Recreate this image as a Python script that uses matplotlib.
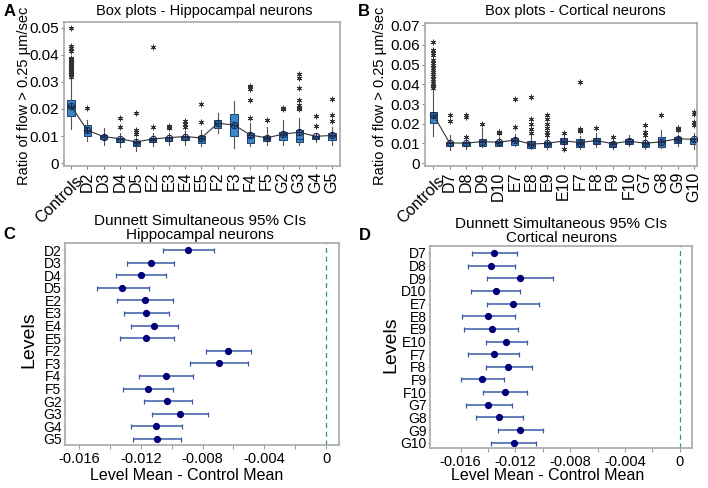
import matplotlib
matplotlib.use('Agg')
import matplotlib.pyplot as plt
import numpy as np
from matplotlib.ticker import FixedLocator

plt.rcParams['font.family'] = ['Liberation Sans', 'DejaVu Sans']

# ---------------- Panel A: box plots, hippocampal ----------------
a_cats = ['Controls', 'D2', 'D3', 'D4', 'D5', 'E2', 'E3', 'E4', 'E5',
          'F2', 'F3', 'F4', 'F5', 'G2', 'G3', 'G4', 'G5']
a_q1 = [0.0175, 0.0100, 0.0089, 0.0076, 0.0064, 0.0076, 0.0081, 0.0085, 0.0075,
        0.0128, 0.0100, 0.0075, 0.0080, 0.0086, 0.0076, 0.0089, 0.0086]
a_med = [0.0208, 0.0118, 0.0097, 0.0088, 0.0075, 0.0086, 0.0092, 0.0096, 0.0090,
         0.0147, 0.0141, 0.0097, 0.0090, 0.0105, 0.0088, 0.0096, 0.0100]
a_q3 = [0.0233, 0.0141, 0.0104, 0.0094, 0.0081, 0.0094, 0.0097, 0.0101, 0.0100,
        0.0159, 0.0181, 0.0112, 0.0100, 0.0116, 0.0122, 0.0101, 0.0112]
a_wlo = [0.0125, 0.0080, 0.0068, 0.0061, 0.0045, 0.0062, 0.0068, 0.0066, 0.0063,
         0.0110, 0.0054, 0.0062, 0.0066, 0.0066, 0.0065, 0.0078, 0.0066]
a_whi = [0.0310, 0.0160, 0.0128, 0.0110, 0.0093, 0.0110, 0.0112, 0.0118, 0.0122,
         0.0186, 0.0230, 0.0150, 0.0132, 0.0160, 0.0165, 0.0112, 0.0132]
a_mean = [0.0212, 0.0121, 0.0098, 0.0090, 0.0078, 0.0089, 0.0094, 0.0098, 0.0093,
          0.0147, 0.0141, 0.0104, 0.0093, 0.0107, 0.0114, 0.0099, 0.0102]
a_fliers = [
    [0.0499, 0.0432, 0.0425, 0.0415, 0.0390, 0.0385, 0.0380, 0.0375, 0.0370, 0.0365,
     0.0360, 0.0355, 0.0350, 0.0345, 0.0340, 0.0335, 0.0330, 0.0325, 0.0320],
    [0.0203], [], [0.0168, 0.0134], [0.0186, 0.0122, 0.0114, 0.0107],
    [0.0431, 0.0134], [0.0138, 0.0133, 0.0129], [0.0155, 0.0145, 0.0135],
    [0.0219, 0.0153], [], [], [0.0285, 0.0280, 0.0275, 0.0234, 0.0168],
    [0.0160], [0.0203, 0.0199],
    [0.0330, 0.0313, 0.0278, 0.0234, 0.0213, 0.0205, 0.0200],
    [0.0173, 0.0136], [0.0237, 0.0178, 0.0157]]

# ---------------- Panel B: box plots, cortical ----------------
b_cats = ['Controls', 'D7', 'D8', 'D9', 'D10', 'E7', 'E8', 'E9', 'E10',
          'F7', 'F8', 'F9', 'F10', 'G7', 'G8', 'G9', 'G10']
b_q1 = [0.0203, 0.0085, 0.0088, 0.0085, 0.0088, 0.0093, 0.0078, 0.0084, 0.0098,
        0.0081, 0.0098, 0.0084, 0.0098, 0.0084, 0.0084, 0.0104, 0.0098]
b_med = [0.0236, 0.0100, 0.0100, 0.0108, 0.0104, 0.0114, 0.0093, 0.0098, 0.0110,
         0.0098, 0.0115, 0.0097, 0.0110, 0.0098, 0.0108, 0.0120, 0.0115]
b_q3 = [0.0262, 0.0110, 0.0109, 0.0123, 0.0113, 0.0127, 0.0112, 0.0109, 0.0127,
        0.0122, 0.0130, 0.0106, 0.0123, 0.0109, 0.0132, 0.0132, 0.0130]
b_wlo = [0.0140, 0.0068, 0.0070, 0.0080, 0.0085, 0.0085, 0.0070, 0.0072, 0.0080,
         0.0070, 0.0080, 0.0070, 0.0085, 0.0070, 0.0075, 0.0088, 0.0070]
b_whi = [0.0370, 0.0143, 0.0120, 0.0180, 0.0135, 0.0150, 0.0140, 0.0135, 0.0137,
         0.0140, 0.0155, 0.0120, 0.0143, 0.0130, 0.0169, 0.0145, 0.0155]
b_mean = [0.0245, 0.0103, 0.0102, 0.0110, 0.0106, 0.0118, 0.0097, 0.0101, 0.0113,
          0.0105, 0.0115, 0.0099, 0.0112, 0.0101, 0.0109, 0.0124, 0.0121]
b_fliers = [
    [0.0616, 0.0574, 0.0560, 0.0548, 0.0523, 0.0510, 0.0497, 0.0485, 0.0472, 0.0464,
     0.0452, 0.0440, 0.0428, 0.0416, 0.0405, 0.0398, 0.0390, 0.0380],
    [0.0245, 0.0216], [0.0245, 0.0233, 0.0135], [0.0199], [0.0160, 0.0156, 0.0152],
    [0.0326, 0.0185], [0.0337, 0.0225, 0.0200, 0.0175, 0.0155],
    [0.0245, 0.0222, 0.0199, 0.0177, 0.0160, 0.0145], [0.0155, 0.0071],
    [0.0410, 0.0172, 0.0168, 0.0164], [0.0180], [0.0135], [],
    [0.0194, 0.0160, 0.0145], [0.0245], [0.0180, 0.0176, 0.0172, 0.0169],
    [0.0262, 0.0247, 0.0210, 0.0195]]

# ---------------- Panel C: Dunnett CIs, hippocampal ----------------
c_levels = ['D2', 'D3', 'D4', 'D5', 'E2', 'E3', 'E4', 'E5',
            'F2', 'F3', 'F4', 'F5', 'G2', 'G3', 'G4', 'G5']
c_center = [-0.00894, -0.01136, -0.01201, -0.01320, -0.01175, -0.01164, -0.01114, -0.01164,
            -0.00635, -0.00696, -0.01037, -0.01153, -0.01030, -0.00948, -0.01101, -0.01093]
c_lower = [-0.01058, -0.01289, -0.01360, -0.01484, -0.01352, -0.01307, -0.01266, -0.01335,
           -0.00780, -0.00884, -0.01214, -0.01315, -0.01182, -0.01125, -0.01266, -0.01248]
c_upper = [-0.00728, -0.00985, -0.01037, -0.01147, -0.00994, -0.01017, -0.00961, -0.00987,
           -0.00488, -0.00508, -0.00864, -0.00994, -0.00871, -0.00764, -0.00933, -0.00939]

# ---------------- Panel D: Dunnett CIs, cortical ----------------
d_levels = ['D7', 'D8', 'D9', 'D10', 'E7', 'E8', 'E9', 'E10',
            'F7', 'F8', 'F9', 'F10', 'G7', 'G8', 'G9', 'G10']
d_center = [-0.01354, -0.01381, -0.01167, -0.01344, -0.01216, -0.01400, -0.01374, -0.01269,
            -0.01359, -0.01254, -0.01442, -0.01274, -0.01398, -0.01318, -0.01165, -0.01211]
d_lower = [-0.01515, -0.01549, -0.01405, -0.01527, -0.01405, -0.01588, -0.01576, -0.01417,
           -0.01545, -0.01417, -0.01596, -0.01435, -0.01563, -0.01486, -0.01328, -0.01376]
d_upper = [-0.01189, -0.01206, -0.00923, -0.01169, -0.01026, -0.01206, -0.01179, -0.01113,
           -0.01172, -0.01081, -0.01286, -0.01118, -0.01223, -0.01147, -0.00999, -0.01050]

W, H = 708, 488
fig = plt.figure(figsize=(W / 100, H / 100), dpi=100)


def rect(l, t, r, b):
    return [l / W, 1 - b / H, (r - l) / W, (b - t) / H]


def ftext(x, y, s, **kw):
    fig.text(x / W, 1 - y / H, s, **kw)


SPINE = '#a8a8a8'
BOXFACE = '#3a86c8'
BOXEDGE = '#1b3f6e'


def box_panel(ax, cats, q1, med, q3, wlo, whi, mean, fliers, yticks, ylim, xlim):
    stats = []
    for i in range(len(cats)):
        stats.append(dict(label=cats[i], q1=q1[i], med=med[i], q3=q3[i],
                          whislo=wlo[i], whishi=whi[i], fliers=fliers[i]))
    pos = np.arange(len(cats))
    ax.bxp(stats, positions=pos, widths=0.45, showcaps=False, patch_artist=True,
           boxprops=dict(facecolor=BOXFACE, edgecolor=BOXEDGE, linewidth=0.7),
           medianprops=dict(color=BOXEDGE, linewidth=0.9),
           whiskerprops=dict(color='#555555', linewidth=0.8),
           flierprops=dict(marker=(6, 2, 0), markersize=4, markeredgewidth=0.6,
                           markeredgecolor='#333333', markerfacecolor='none'))
    ax.plot(pos, mean, color='#333333', lw=0.8, zorder=4)
    ax.plot(pos, mean, 'o', ms=4.5, mfc='none', mec='#1a2a50', mew=0.8, zorder=5)
    ax.plot(pos, mean, '+', ms=4.5, mec='#1a2a50', mew=0.8, zorder=5)
    ax.set_xlim(*xlim)
    ax.set_ylim(*ylim)
    ax.set_yticks(yticks)
    ax.set_yticklabels(['0' if v == 0 else f'{v:g}' for v in yticks], fontsize=11)
    ax.set_xticks(pos)
    ax.set_xticklabels([])
    span = ylim[1] - ylim[0]
    for i, c in enumerate(cats):
        if i == 0:
            ax.text(i + 0.25, ylim[0] - 0.05 * span, c,
                    rotation=45, ha='right', va='top', rotation_mode='anchor',
                    fontsize=11.5)
        else:
            ax.text(i, ylim[0] - 0.04 * span, c,
                    rotation=90, ha='center', va='top', fontsize=11.5)
    ax.tick_params(axis='both', direction='out', length=2.5, width=0.6, color='#666666', pad=1)
    for s in ax.spines.values():
        s.set_color(SPINE)
        s.set_linewidth(1.2)


axA = fig.add_axes(rect(64, 22, 340, 166))
box_panel(axA, a_cats, a_q1, a_med, a_q3, a_wlo, a_whi, a_mean, a_fliers,
          [0, 0.01, 0.02, 0.03, 0.04, 0.05], (-0.0011, 0.0522), (-0.43, 16.5))

axB = fig.add_axes(rect(425, 22.7, 697, 166))
box_panel(axB, b_cats, b_q1, b_med, b_q3, b_wlo, b_whi, b_mean, b_fliers,
          [0, 0.01, 0.02, 0.03, 0.04, 0.05, 0.06, 0.07], (-0.0014, 0.0712), (-0.51, 16.18))


def ci_panel(ax, levels, center, lower, upper, xlim, ylim):
    y = np.arange(len(levels))
    c = np.array(center)
    err = [c - np.array(lower), np.array(upper) - c]
    ax.errorbar(c, y, xerr=err, fmt='none', ecolor='#3a5aa8', elinewidth=1.1,
                capsize=1.8, capthick=0.9)
    ax.plot(c, y, 'o', color='#00007a', ms=4.2, zorder=5)
    ax.axvline(0, color='#3c9a50', lw=0.9, ls=(0, (4, 3)))
    ax.set_xlim(*xlim)
    ax.set_ylim(*ylim)
    ax.set_yticks(y)
    ax.set_yticklabels(levels, fontsize=10)
    ax.xaxis.set_major_locator(FixedLocator([-0.016, -0.012, -0.008, -0.004, 0]))
    ax.set_xticklabels(['-0.016', '-0.012', '-0.008', '-0.004', '0'], fontsize=10.5)
    ax.xaxis.set_minor_locator(FixedLocator([-0.014, -0.010, -0.006, -0.002]))
    ax.tick_params(axis='x', which='both', direction='out', length=3, width=0.6,
                   color='#888888', pad=2)
    ax.tick_params(axis='y', direction='out', length=1.5, width=0.5, color='#888888', pad=1)
    for s in ax.spines.values():
        s.set_color(SPINE)
        s.set_linewidth(1.2)


axC = fig.add_axes(rect(65, 243, 339, 445))
ci_panel(axC, c_levels, c_center, c_lower, c_upper, (-0.01691, 0.00084), (15.48, -0.556))

axD = fig.add_axes(rect(430, 245.7, 692, 448))
ci_panel(axD, d_levels, d_center, d_lower, d_upper, (-0.01824, 0.0009), (15.42, -0.577))

# Titles and labels
ftext(204, 11, 'Box plots - Hippocampal neurons', ha='center', va='center', fontsize=10.5)
ftext(575, 11, 'Box plots - Cortical neurons', ha='center', va='center', fontsize=10.5)
ftext(24, 96, 'Ratio of flow > 0.25 µm/sec', rotation=90, ha='center', va='center', fontsize=10.5)
ftext(380, 96, 'Ratio of flow > 0.25 µm/sec', rotation=90, ha='center', va='center', fontsize=10.5)

ftext(200, 228, 'Dunnett Simultaneous 95% CIs\nHippocampal neurons', ha='center', va='center',
      fontsize=11, linespacing=0.95)
ftext(561, 231, 'Dunnett Simultaneous 95% CIs\nCortical neurons', ha='center', va='center',
      fontsize=11, linespacing=0.95)
ftext(29, 340, 'Levels', rotation=90, ha='center', va='center', fontsize=14)
ftext(391, 345, 'Levels', rotation=90, ha='center', va='center', fontsize=14)
ftext(187, 475, 'Level Mean - Control Mean', ha='center', va='center', fontsize=11.5)
ftext(548, 476, 'Level Mean - Control Mean', ha='center', va='center', fontsize=11.5)

# Panel letters
ftext(10, 11, 'A', ha='center', va='center', fontsize=12, fontweight='bold')
ftext(364, 11, 'B', ha='center', va='center', fontsize=12, fontweight='bold')
ftext(9, 234, 'C', ha='center', va='center', fontsize=12, fontweight='bold')
ftext(365, 235, 'D', ha='center', va='center', fontsize=12, fontweight='bold')

fig.savefig('out.png', dpi=100)
